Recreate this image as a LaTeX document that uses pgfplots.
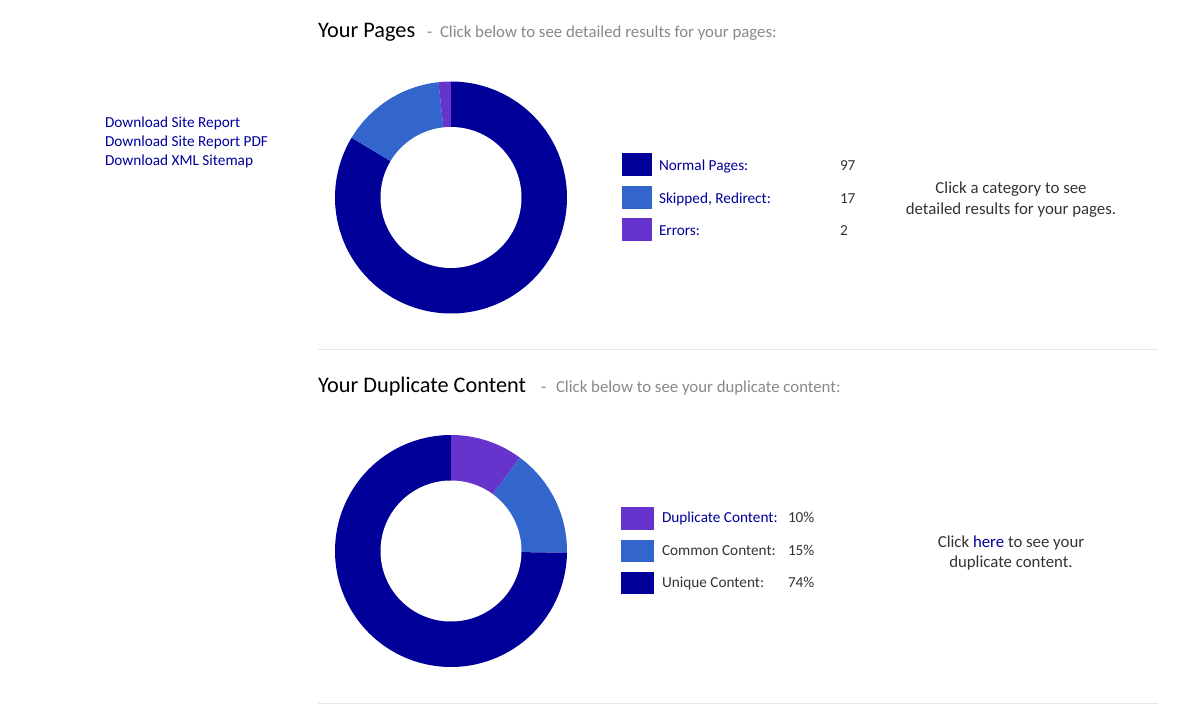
\documentclass[border=0pt]{standalone}
\usepackage{pgfplots}
\usepackage{pgfplotstable}
\pgfplotsset{compat=1.18}
\usepackage{fontspec}
\setmainfont{Carlito}
\definecolor{navy}{HTML}{000099}
\definecolor{midblue}{HTML}{3366CC}
\definecolor{purp}{HTML}{6633CC}
\definecolor{linkblue}{HTML}{000099}
\definecolor{txtgray}{HTML}{333333}
\definecolor{subgray}{HTML}{888888}
\definecolor{sepgray}{HTML}{E6E6E6}

\pgfplotstableread{
label value
Normal 97
Skipped 17
Errors 2
}\pagesdata
\pgfplotstableread{
label value
Duplicate 10
Common 15
Unique 74
}\dupdata

\newcommand{\bodyfont}{\fontsize{11.45}{14}\selectfont}
\newcommand{\subfont}{\fontsize{12.6}{15}\selectfont}
\newcommand{\titlefont}{\fontsize{16.7}{19}\selectfont}

\begin{document}
\begin{tikzpicture}[every node/.style={inner sep=0pt, outer sep=0pt}]
% values of the two donuts
\pgfplotstablegetelem{0}{value}\of\pagesdata\edef\pA{\pgfplotsretval}
\pgfplotstablegetelem{1}{value}\of\pagesdata\edef\pB{\pgfplotsretval}
\pgfplotstablegetelem{2}{value}\of\pagesdata\edef\pC{\pgfplotsretval}
\pgfplotstablegetelem{0}{value}\of\dupdata\edef\dA{\pgfplotsretval}
\pgfplotstablegetelem{1}{value}\of\dupdata\edef\dB{\pgfplotsretval}
\pgfplotstablegetelem{2}{value}\of\dupdata\edef\dC{\pgfplotsretval}
\pgfmathsetmacro\pT{\pA+\pB+\pC}
\pgfmathsetmacro\pa{90-(\pA/\pT)*360}
\pgfmathsetmacro\pb{\pa-(\pB/\pT)*360}
\pgfmathsetmacro\pc{\pb-(\pC/\pT)*360}
\pgfmathsetmacro\dT{\dA+\dB+\dC}
\pgfmathsetmacro\da{90-(\dA/\dT)*360}
\pgfmathsetmacro\db{\da-(\dB/\dT)*360}
\pgfmathsetmacro\dc{\db-(\dC/\dT)*360}
\begin{axis}[
  scale only axis, width=900pt, height=536.25pt,
  xmin=0, xmax=1200, ymin=0, ymax=715,
  hide axis, clip=false,
]
\path (axis cs:0,0) rectangle (axis cs:1200,715);

% ---------- Section 1 ----------
\node[anchor=base west, text=black, inner sep=0pt] at (axis cs:318,677.5) {\titlefont Your Pages};
\node[anchor=base west, text=subgray, inner sep=0pt] at (axis cs:427,677.5) {\subfont -};
\node[anchor=base west, text=subgray, inner sep=0pt] at (axis cs:440,677.5) {\subfont Click below to see detailed results for your pages:};

\node[anchor=base west, text=linkblue, inner sep=0pt] at (axis cs:105,587.5) {\bodyfont Download Site Report};
\node[anchor=base west, text=linkblue, inner sep=0pt] at (axis cs:105,568.5) {\bodyfont Download Site Report PDF};
\node[anchor=base west, text=linkblue, inner sep=0pt] at (axis cs:105,549.5) {\bodyfont Download XML Sitemap};

% donut 1
\addplot[fill=navy, draw=none, domain=\pa:90, samples=150, variable=\t]
  ({451+116*cos(\t)},{517.5+116*sin(\t)}) -- (axis cs:451,517.5) -- cycle;
\addplot[fill=midblue, draw=none, domain=\pb:\pa, samples=40, variable=\t]
  ({451+116*cos(\t)},{517.5+116*sin(\t)}) -- (axis cs:451,517.5) -- cycle;
\addplot[fill=purp, draw=none, domain=\pc:\pb, samples=10, variable=\t]
  ({451+116*cos(\t)},{517.5+116*sin(\t)}) -- (axis cs:451,517.5) -- cycle;
\addplot[fill=white, draw=none, domain=0:360, samples=150, variable=\t]
  ({451+70.5*cos(\t)},{517.5+70.5*sin(\t)}) -- cycle;

% legend 1
\fill[navy] (axis cs:622,562) rectangle (axis cs:652,538.5);
\fill[midblue] (axis cs:622,529) rectangle (axis cs:652,506);
\fill[purp] (axis cs:622,496.5) rectangle (axis cs:652,473.5);
\node[anchor=base west, text=linkblue, inner sep=0pt] at (axis cs:659,544) {\bodyfont Normal Pages:};
\node[anchor=base west, text=linkblue, inner sep=0pt] at (axis cs:659,511.5) {\bodyfont Skipped, Redirect:};
\node[anchor=base west, text=linkblue, inner sep=0pt] at (axis cs:659,479) {\bodyfont Errors:};
\node[anchor=base west, text=txtgray, inner sep=0pt] at (axis cs:840,544) {\bodyfont \pA};
\node[anchor=base west, text=txtgray, inner sep=0pt] at (axis cs:840,511.5) {\bodyfont \pB};
\node[anchor=base west, text=txtgray, inner sep=0pt] at (axis cs:840,479) {\bodyfont \pC};

\node[anchor=base, text=txtgray, inner sep=0pt] at (axis cs:1011,521) {\subfont Click a category to see};
\node[anchor=base, text=txtgray, inner sep=0pt] at (axis cs:1011,500) {\subfont detailed results for your pages.};

\draw[sepgray, line width=0.75pt] (axis cs:318,365) -- (axis cs:1158,365);

% ---------- Section 2 ----------
\node[anchor=base west, text=black, inner sep=0pt] at (axis cs:318,322) {\titlefont Your Duplicate Content};
\node[anchor=base west, text=subgray, inner sep=0pt] at (axis cs:541,322) {\subfont -};
\node[anchor=base west, text=subgray, inner sep=0pt] at (axis cs:556,322) {\subfont Click below to see your duplicate content:};

% donut 2
\addplot[fill=purp, draw=none, domain=\da:90, samples=30, variable=\t]
  ({451+116*cos(\t)},{164+116*sin(\t)}) -- (axis cs:451,164) -- cycle;
\addplot[fill=midblue, draw=none, domain=\db:\da, samples=40, variable=\t]
  ({451+116*cos(\t)},{164+116*sin(\t)}) -- (axis cs:451,164) -- cycle;
\addplot[fill=navy, draw=none, domain=\dc:\db, samples=150, variable=\t]
  ({451+116*cos(\t)},{164+116*sin(\t)}) -- (axis cs:451,164) -- cycle;
\addplot[fill=white, draw=none, domain=0:360, samples=150, variable=\t]
  ({451+70.5*cos(\t)},{164+70.5*sin(\t)}) -- cycle;

% legend 2
\fill[purp] (axis cs:621,208) rectangle (axis cs:654,185.5);
\fill[midblue] (axis cs:621,175.5) rectangle (axis cs:654,153);
\fill[navy] (axis cs:621,143.3) rectangle (axis cs:654,120.7);
\node[anchor=base west, text=linkblue, inner sep=0pt] at (axis cs:662,192.3) {\bodyfont Duplicate Content:};
\node[anchor=base west, text=txtgray, inner sep=0pt] at (axis cs:662,160) {\bodyfont Common Content:};
\node[anchor=base west, text=txtgray, inner sep=0pt] at (axis cs:662,127.7) {\bodyfont Unique Content:};
\node[anchor=base west, text=txtgray, inner sep=0pt] at (axis cs:788,192.3) {\bodyfont \dA\%};
\node[anchor=base west, text=txtgray, inner sep=0pt] at (axis cs:788,160) {\bodyfont \dB\%};
\node[anchor=base west, text=txtgray, inner sep=0pt] at (axis cs:788,127.7) {\bodyfont \dC\%};

\node[anchor=base, text=txtgray, inner sep=0pt] at (axis cs:1011,167.3) {\subfont Click \textcolor{linkblue}{here} to see your};
\node[anchor=base, text=txtgray, inner sep=0pt] at (axis cs:1011,147.7) {\subfont duplicate content.};

\draw[sepgray, line width=0.75pt] (axis cs:318,12) -- (axis cs:1158,12);
\end{axis}
\end{tikzpicture}
\end{document}
